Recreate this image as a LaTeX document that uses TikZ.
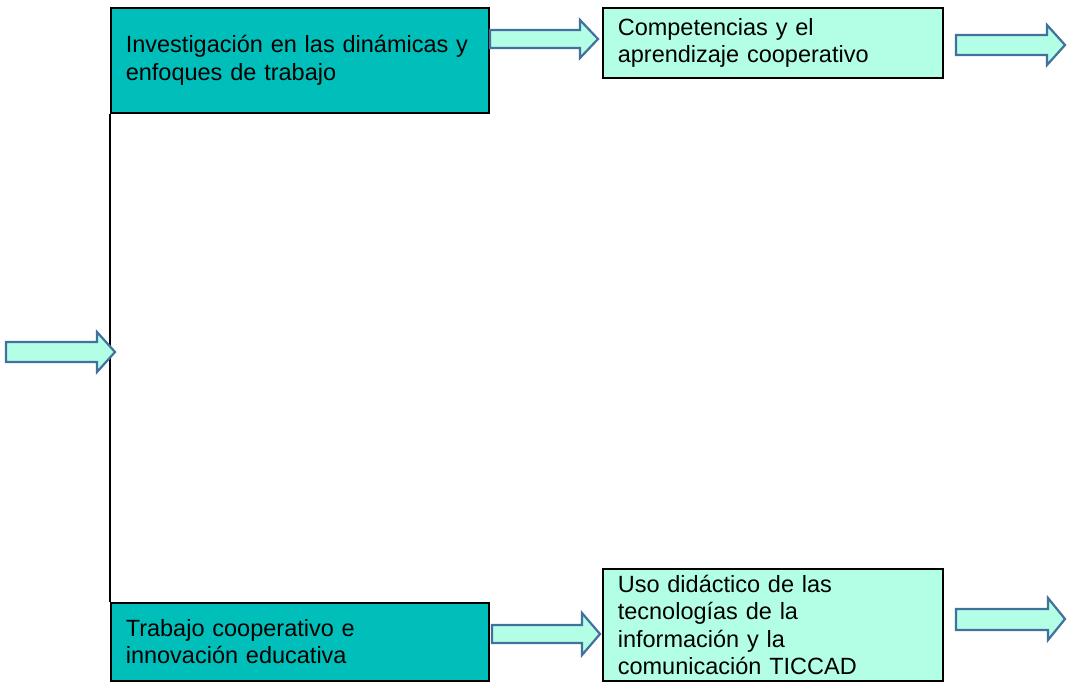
\documentclass[tikz,border=0pt]{standalone}
\usepackage{fontspec}
\setmainfont{Liberation Sans}
\definecolor{teal1}{RGB}{0,191,186}
\definecolor{aqua1}{RGB}{179,255,230}
\definecolor{arrowline}{RGB}{65,113,156}
\tikzset{
  darkbox/.style={draw=black, line width=1.6pt, fill=teal1, anchor=north west, inner xsep=15pt, inner ysep=0pt, align=left, font=\fontsize{23.5}{27.5}\selectfont},
  lightbox/.style={draw=black, line width=1.6pt, fill=aqua1, anchor=north west, inner xsep=15pt, inner ysep=0pt, align=left, font=\fontsize{23.5}{27.5}\selectfont},
  blockarrow/.style={draw=arrowline, line width=2.2pt, fill=aqua1, line join=miter},
  conn/.style={draw=black, line width=1.6pt}
}
\begin{document}
\begin{tikzpicture}[x=1pt,y=-1pt]
\useasboundingbox (0,0) rectangle (1067,681);
% boxes
\node[darkbox, text width=348pt, minimum height=105pt] (b1) at (110,7) {Investigación en las dinámicas y\\enfoques de trabajo};
\node[lightbox, text width=310pt, minimum height=70pt] (b2) at (602,7) {Competencias y el\\aprendizaje cooperativo};
\node[darkbox, text width=348pt, minimum height=78pt] (b3) at (110,602) {Trabajo cooperativo e\\innovación educativa};
\node[lightbox, text width=310pt, minimum height=112pt] (b4) at (602,568) {Uso didáctico de las\\tecnologías de la\\información y la\\comunicación TICCAD};
% vertical connector
\draw[conn] (b1.south west) -- (b3.north west);
% block arrows
\draw[blockarrow] (490,30) -- (580,30) -- (580,20) -- (598,39) -- (580,58) -- (580,48) -- (490,48) -- cycle;
\draw[blockarrow] (956,35) -- (1047,35) -- (1047,25) -- (1065,45) -- (1047,65) -- (1047,55) -- (956,55) -- cycle;
\draw[blockarrow] (6,342) -- (97,342) -- (97,332) -- (115,352) -- (97,372) -- (97,362) -- (6,362) -- cycle;
\draw[blockarrow] (492,625) -- (582,625) -- (582,613) -- (600,634) -- (582,655) -- (582,643) -- (492,643) -- cycle;
\draw[blockarrow] (956,609) -- (1048,609) -- (1048,598) -- (1065,619) -- (1048,640) -- (1048,630) -- (956,630) -- cycle;
\end{tikzpicture}
\end{document}
